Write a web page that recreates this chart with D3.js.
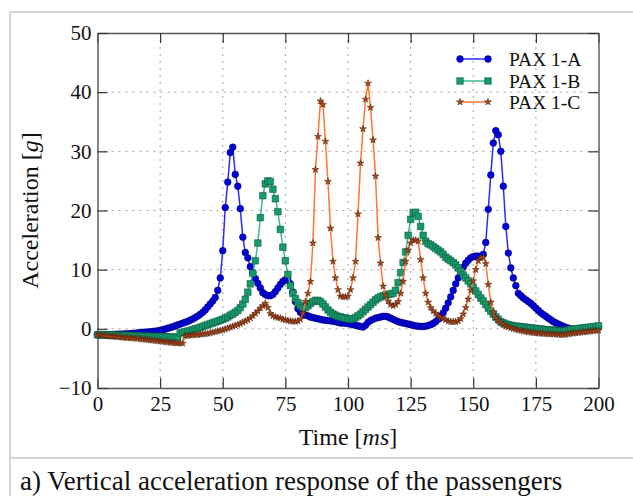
<!DOCTYPE html>
<html>
<head>
<meta charset="utf-8">
<script src="https://cdn.jsdelivr.net/npm/d3@7"></script>
<style>
  html, body { margin: 0; padding: 0; background: #fff; }
  svg { display: block; }
  text { font-family: "Liberation Serif", "Times New Roman", serif; fill: #111; }
</style>
</head>
<body>
<svg id="chart" width="633" height="496"></svg>
<script>
// Sample times (ms), one sample per millisecond
const timeMs = d3.range(0, 201);

// Vertical acceleration [g] of each passenger
const paxA = [
  -1.0,-1.0,-1.0,-1.0,-1.0,-1.0,-0.95,-0.95,-0.9,-0.9,
  -0.9,-0.85,-0.85,-0.8,-0.8,-0.75,-0.7,-0.65,-0.6,-0.55,
  -0.55,-0.5,-0.45,-0.4,-0.35,-0.25,-0.15,-0.05,0.1,0.2,
  0.35,0.5,0.65,0.8,0.95,1.1,1.25,1.45,1.65,1.9,
  2.15,2.45,2.8,3.2,3.7,4.2,4.7,5.3,6.5,8.6,
  13.2,20.5,24.8,29.8,30.7,26.1,24.1,20.3,15.5,12.9,
  12.0,10.5,9.5,8.5,7.7,6.9,6.1,5.8,5.6,5.6,
  5.8,6.3,6.9,7.5,8.0,8.3,8.2,7.6,6.2,4.6,
  3.4,2.8,2.5,2.3,2.2,2.0,1.9,1.8,1.7,1.6,
  1.5,1.45,1.4,1.35,1.3,1.2,1.1,1.0,1.0,0.95,
  0.9,0.8,0.7,0.6,0.5,0.4,0.3,0.6,1.1,1.4,
  1.6,1.8,1.9,2.0,2.1,2.1,2.0,1.8,1.6,1.4,
  1.2,1.1,1.0,0.9,0.8,0.7,0.6,0.5,0.45,0.4,
  0.4,0.45,0.55,0.7,0.9,1.2,1.6,2.1,2.7,3.5,
  4.4,5.4,6.5,7.6,8.6,9.6,10.4,11.1,11.6,12.0,
  12.2,12.3,12.3,12.2,12.6,14.6,20.2,26.0,31.4,33.5,
  32.8,30.0,24.1,17.3,12.8,10.3,8.6,7.3,6.0,5.6,
  5.2,4.9,4.6,4.3,3.9,3.5,3.1,2.7,2.4,2.1,
  1.8,1.5,1.2,1.0,0.8,0.6,0.4,0.25,0.1,0.0,
  -0.1,-0.2,-0.2,-0.15,-0.1,0.0,0.05,0.1,0.15,0.2,
  0.25
];

const paxB = [
  -1.0,-1.0,-1.0,-1.0,-1.05,-1.05,-1.05,-1.05,-1.1,-1.1,
  -1.1,-1.1,-1.15,-1.15,-1.15,-1.2,-1.2,-1.2,-1.2,-1.25,
  -1.25,-1.25,-1.3,-1.3,-1.3,-1.3,-1.35,-1.35,-1.35,-1.4,
  -1.4,-1.4,-1.45,-0.7,-0.6,-0.5,-0.4,-0.3,-0.15,0.0,
  0.1,0.25,0.4,0.55,0.7,0.85,1.0,1.15,1.3,1.45,
  1.6,1.8,2.0,2.3,2.5,2.8,3.1,3.6,4.2,5.0,
  6.2,7.6,9.4,11.5,14.5,18.8,22.5,24.5,25.0,24.9,
  23.6,22.0,19.8,16.8,13.8,11.5,9.2,7.3,6.0,5.1,
  4.4,3.9,3.6,3.6,3.9,4.3,4.6,4.8,4.8,4.6,
  4.2,3.7,3.2,2.8,2.5,2.3,2.1,2.0,1.9,1.8,
  1.7,1.6,1.7,1.9,2.2,2.5,2.9,3.3,3.7,4.1,
  4.5,4.9,5.2,5.4,5.6,5.7,5.8,5.9,6.0,6.5,
  7.8,9.5,11.2,13.0,15.8,18.5,19.6,19.7,19.0,17.3,
  15.8,14.8,14.4,14.2,13.9,13.6,13.3,13.0,12.6,12.1,
  11.8,11.5,11.2,10.8,10.3,9.7,9.1,8.6,8.1,7.6,
  7.0,6.4,5.8,5.2,4.7,4.1,3.5,3.0,2.5,2.0,
  1.6,1.2,1.0,0.8,0.7,0.6,0.5,0.45,0.4,0.35,
  0.3,0.25,0.2,0.15,0.1,0.05,0.0,-0.05,-0.1,-0.15,
  -0.2,-0.2,-0.25,-0.3,-0.3,-0.35,-0.4,-0.3,-0.2,-0.1,
  -0.05,0.0,0.05,0.1,0.15,0.2,0.25,0.3,0.35,0.4,
  0.5
];

const paxC = [
  -1.0,-1.05,-1.1,-1.15,-1.2,-1.25,-1.3,-1.3,-1.35,-1.4,
  -1.45,-1.5,-1.5,-1.55,-1.6,-1.6,-1.65,-1.7,-1.75,-1.8,
  -1.85,-1.9,-1.95,-2.0,-2.05,-2.1,-2.15,-2.2,-2.25,-2.3,
  -2.35,-2.4,-2.4,-2.45,-2.45,-1.2,-1.15,-1.1,-1.05,-1.0,
  -1.0,-0.95,-0.9,-0.85,-0.8,-0.7,-0.6,-0.5,-0.4,-0.3,
  -0.2,-0.05,0.1,0.25,0.4,0.55,0.7,0.9,1.1,1.3,
  1.5,1.8,2.2,2.6,3.0,3.5,3.9,4.3,3.6,2.6,
  2.2,2.0,1.9,1.8,1.6,1.5,1.4,1.3,1.25,1.25,
  1.3,1.6,2.6,4.6,6.0,8.0,14.5,26.9,32.5,38.5,
  37.9,31.7,24.9,17.0,11.4,8.6,6.6,5.5,5.4,5.4,
  5.5,6.6,8.6,11.4,19.4,28.0,33.8,38.8,41.5,37.4,
  31.9,25.8,15.4,11.1,7.2,5.7,4.7,4.1,3.9,4.1,
  4.6,6.0,8.0,11.4,13.3,14.5,15.0,15.0,14.8,11.7,
  8.6,6.0,4.5,3.6,3.0,2.6,2.2,1.9,1.7,1.5,
  1.3,1.2,1.2,1.2,1.3,1.7,2.5,3.6,5.0,6.5,
  8.1,10.0,11.5,12.0,12.1,11.0,7.5,4.5,2.8,1.9,
  1.4,1.0,0.7,0.45,0.3,0.15,0.0,-0.1,-0.2,-0.3,
  -0.4,-0.45,-0.55,-0.6,-0.65,-0.7,-0.75,-0.8,-0.8,-0.85,
  -0.85,-0.9,-0.9,-0.95,-0.95,-1.0,-1.0,-0.95,-0.9,-0.8,
  -0.75,-0.7,-0.65,-0.6,-0.55,-0.5,-0.45,-0.4,-0.35,-0.3,
  -0.25
];

const seriesNames = ["PAX 1-A", "PAX 1-B", "PAX 1-C"];
const xTicks = [0, 25, 50, 75, 100, 125, 150, 175, 200];
const yTicks = [-10, 0, 10, 20, 30, 40, 50];

const styles = [
  { line: "#2a2aff", fill: "#0000d8", stroke: "#00006a", symbol: d3.symbolCircle, size: 36 },
  { line: "#3dbb8c", fill: "#179a6c", stroke: "#0d4d37", symbol: d3.symbolSquare, size: 44 },
  { line: "#ff7433", fill: "#a8481c", stroke: "#4a1c05", symbol: d3.symbolStar, size: 15 }
];

const svg = d3.select("#chart");
const W = 633, H = 496;

svg.append("rect").attr("width", W).attr("height", H).attr("fill", "#fff");

// figure panel border and caption separator
const panel = svg.append("g").attr("fill", "none").attr("stroke", "#d4d4d4").attr("stroke-width", 2);
panel.append("line").attr("x1", 10).attr("x2", W).attr("y1", 12).attr("y2", 12);
panel.append("line").attr("x1", 10).attr("x2", 10).attr("y1", 12).attr("y2", H);
panel.append("line").attr("x1", 10).attr("x2", W).attr("y1", 458).attr("y2", 458);

const plotL = 97.5, plotR = 598.5, plotT = 33, plotB = 388;
const x = d3.scaleLinear().domain([0, 200]).range([plotL, plotR]);
const y = d3.scaleLinear().domain([-10, 50]).range([plotB, plotT]);

// dotted grid
const grid = svg.append("g").attr("stroke", "#a0a0a0").attr("stroke-width", 1)
  .attr("stroke-dasharray", "2,5");
grid.selectAll("line.v").data(xTicks.slice(1, -1)).join("line")
  .attr("x1", d => x(d)).attr("x2", d => x(d)).attr("y1", plotT).attr("y2", plotB);
grid.selectAll("line.h").data(yTicks.slice(1, -1)).join("line")
  .attr("x1", plotL).attr("x2", plotR).attr("y1", d => y(d)).attr("y2", d => y(d));

// axes with inward ticks on all four sides
function styleAxis(g) {
  g.select(".domain").attr("stroke", "#555").attr("stroke-width", 1.4);
  g.selectAll(".tick line").attr("stroke", "#333").attr("stroke-width", 1.2);
  g.selectAll(".tick text").attr("font-family", "Liberation Serif, Times New Roman, serif")
    .attr("font-size", 21).attr("fill", "#111");
}
svg.append("g").attr("transform", `translate(0,${plotB})`)
  .call(d3.axisBottom(x).tickValues(xTicks).tickSizeInner(-10).tickSizeOuter(0).tickPadding(8))
  .call(styleAxis);
svg.append("g").attr("transform", `translate(0,${plotT})`)
  .call(d3.axisTop(x).tickValues(xTicks).tickSizeInner(-10).tickSizeOuter(0).tickFormat(""))
  .call(styleAxis);
svg.append("g").attr("transform", `translate(${plotL},0)`)
  .call(d3.axisLeft(y).tickValues(yTicks).tickSizeInner(-10).tickSizeOuter(0).tickPadding(6))
  .call(styleAxis);
svg.append("g").attr("transform", `translate(${plotR},0)`)
  .call(d3.axisRight(y).tickValues(yTicks).tickSizeInner(-10).tickSizeOuter(0).tickFormat(""))
  .call(styleAxis);

// series
const allSeries = [paxA, paxB, paxC];
const lineGen = d3.line().x(d => x(d[0])).y(d => y(d[1]));
const plot = svg.append("g");
allSeries.forEach((vals, i) => {
  const pts = timeMs.map((t, k) => [t, vals[k]]);
  const s = styles[i];
  const g = plot.append("g");
  g.append("path").datum(pts).attr("d", lineGen)
    .attr("fill", "none").attr("stroke", s.line).attr("stroke-width", 1.5);
  g.selectAll("path.m").data(pts).join("path")
    .attr("class", "m")
    .attr("d", d3.symbol().type(s.symbol).size(s.size))
    .attr("transform", d => `translate(${x(d[0])},${y(d[1])})`)
    .attr("fill", s.fill).attr("stroke", s.stroke).attr("stroke-width", 0.5);
});

// legend
const legend = svg.append("g");
const legendY = [59, 81, 102];
seriesNames.forEach((name, i) => {
  const s = styles[i];
  const g = legend.append("g").attr("transform", `translate(0,${legendY[i]})`);
  g.append("line").attr("x1", 460).attr("x2", 488).attr("y1", 0).attr("y2", 0)
    .attr("stroke", s.line).attr("stroke-width", 1.5);
  [460, 488].forEach(px => {
    g.append("path").attr("d", d3.symbol().type(s.symbol).size(s.size))
      .attr("transform", `translate(${px},0)`)
      .attr("fill", s.fill).attr("stroke", s.stroke).attr("stroke-width", 0.5);
  });
  g.append("text").attr("x", 509).attr("y", 7).attr("font-size", 19.5).text(name);
});

// axis titles
const yTitle = svg.append("text")
  .attr("transform", `translate(38,${(plotT + plotB) / 2}) rotate(-90)`)
  .attr("text-anchor", "middle").attr("font-size", 24);
yTitle.append("tspan").text("Acceleration [");
yTitle.append("tspan").attr("font-style", "italic").text("g");
yTitle.append("tspan").text("]");

const xTitle = svg.append("text")
  .attr("x", (plotL + plotR) / 2).attr("y", 445)
  .attr("text-anchor", "middle").attr("font-size", 24);
xTitle.append("tspan").text("Time [");
xTitle.append("tspan").attr("font-style", "italic").text("ms");
xTitle.append("tspan").text("]");

// caption
svg.append("text").attr("x", 20).attr("y", 490).attr("font-size", 27)
  .text("a) Vertical acceleration response of the passengers");
</script>
</body>
</html>
